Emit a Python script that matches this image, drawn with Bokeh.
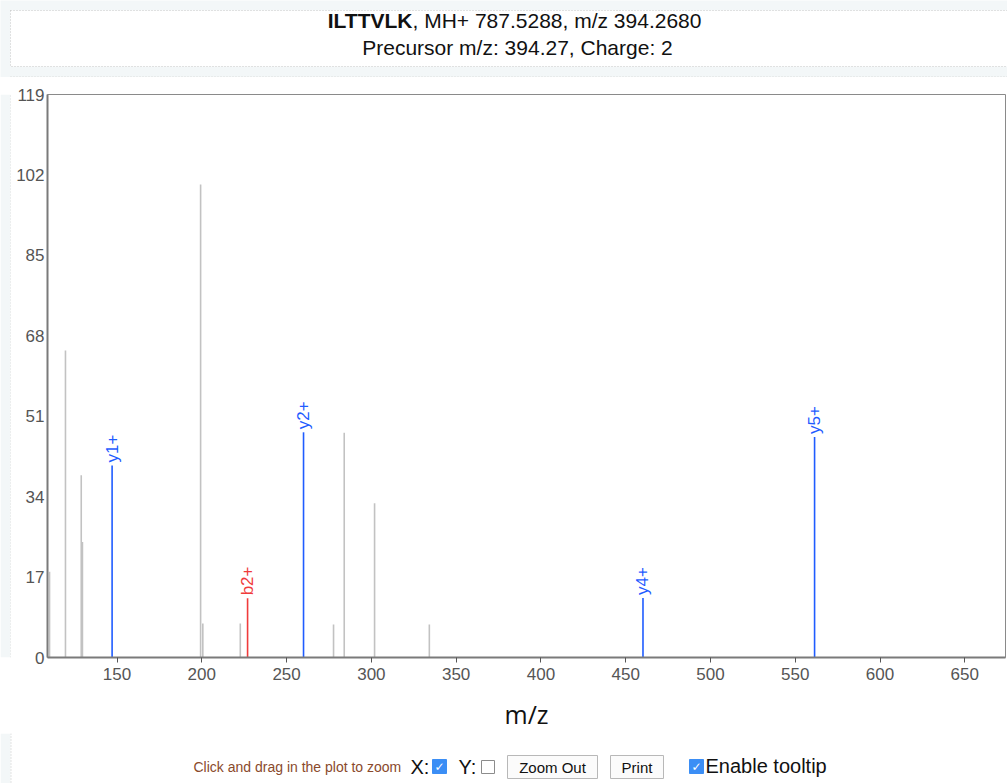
import math
from bokeh.plotting import figure
from bokeh.layouts import column, row
from bokeh.models import FixedTicker, ColumnDataSource
from bokeh.core.properties import value
from bokeh.embed import file_html
from bokeh.resources import INLINE

# ---------------- data ----------------
peptide = "ILTTVLK"
mh_mass = 787.5288
prec_mz = 394.2680
charge = 2

gray_mz = [110.2, 119.6, 128.9, 129.6, 199.3, 200.6, 222.7, 277.7, 284.0, 301.9, 334.2]
gray_int = [18.1, 64.9, 38.5, 24.4, 100.0, 7.2, 7.2, 7.0, 47.5, 32.6, 7.0]

ion_labels = ["y1+", "b2+", "y2+", "y4+", "y5+"]
ion_mz = [147.1, 227.0, 260.0, 460.2, 561.4]
ion_int = [40.6, 12.5, 47.6, 12.6, 46.6]
ion_type = ["y", "b", "y", "y", "y"]

x_ticks = [150, 200, 250, 300, 350, 400, 450, 500, 550, 600, 650]
y_ticks = [0, 17, 34, 51, 68, 85, 102, 119]

ion_colors = {"y": "#1f5cff", "b": "#f03b3b"}

FONT = value("Liberation Sans")
BG = "#f3f7f8"
DOT = "#c6c6c6"

# ---------------- header ----------------
W = 1007
HH = 77
hdr = figure(width=W, height=HH, x_range=(0, W), y_range=(HH, 0),
             x_axis_type=None, y_axis_type=None, output_backend="svg",
             toolbar_location=None, min_border=0, outline_line_color=None,
             background_fill_color=BG, border_fill_color=BG)
hdr.grid.visible = False
hdr.quad(left=[10], right=[W + 5], top=[10], bottom=[66], fill_color="white",
         line_color=DOT, line_dash="1 2", line_width=1)
hdr.segment(x0=[10], y0=[76.5], x1=[W + 5], y1=[76.5], line_color=DOT,
            line_dash="1 2", line_width=1)
hdr.text(x=[412], y=[20], text=[peptide], text_align="right", text_baseline="middle",
         text_font=FONT, text_font_style="bold", text_font_size="21px", text_color="#111111")
hdr.text(x=[412], y=[20], text=[f", MH+ {mh_mass:.4f}, m/z {prec_mz:.4f}"],
         text_align="left", text_baseline="middle",
         text_font=FONT, text_font_size="21px", text_color="#111111")
hdr.text(x=[517], y=[47], text=[f"Precursor m/z: {prec_mz:.2f}, Charge: {charge}"],
         text_align="center", text_baseline="middle",
         text_font=FONT, text_font_size="21px", text_color="#111111")

# ---------------- main plot ----------------
MH = 656
SW = 11
strip = figure(width=SW, height=MH, x_range=(0, SW), y_range=(0, MH),
               x_axis_type=None, y_axis_type=None, output_backend="svg",
               toolbar_location=None, min_border=0, outline_line_color=None,
               background_fill_color="white", border_fill_color="white")
strip.grid.visible = False
strip.quad(left=[0], right=[10], bottom=[0], top=[MH], fill_color=BG, line_color=None)
strip.segment(x0=[10.5], y0=[0], x1=[10.5], y1=[MH], line_color=DOT, line_dash="1 2")

p = figure(width=W - SW, height=MH, x_range=(109, 674), y_range=(0, 119),
           output_backend="svg", toolbar_location=None,
           min_border_left=36, min_border_right=2, min_border_top=17, min_border_bottom=74,
           outline_line_color="#8a8a8a", outline_line_width=1,
           background_fill_color="white", border_fill_color="white")
p.grid.visible = False

p.xaxis.ticker = FixedTicker(ticks=x_ticks)
p.yaxis.ticker = FixedTicker(ticks=y_ticks)
for ax in (p.xaxis[0], p.yaxis[0]):
    ax.axis_line_color = "#7a7a7a"
    ax.axis_line_width = 2
    ax.major_label_text_font = "Liberation Sans"
    ax.major_label_text_font_size = "17px"
    ax.major_label_text_color = "#555555"
    ax.minor_tick_line_color = None
p.xaxis.major_tick_out = 5
p.xaxis.major_tick_in = 0
p.xaxis.major_tick_line_color = "#555555"
p.xaxis.major_label_standoff = 5
p.yaxis.major_tick_out = 0
p.yaxis.major_tick_in = 0
p.yaxis.major_tick_line_color = None
p.yaxis.major_label_standoff = 3
p.xaxis.axis_label = "m/z"
p.xaxis.axis_label_text_font = "Open Sans"
p.xaxis.axis_label_text_font_size = "25px"
p.xaxis.axis_label_text_font_style = "normal"
p.xaxis.axis_label_text_color = "#111111"
p.xaxis.axis_label_standoff = 14

gsrc = ColumnDataSource(dict(mz=gray_mz, inten=gray_int, base=[0] * len(gray_mz)))
p.segment(x0="mz", y0="base", x1="mz", y1="inten", source=gsrc,
          line_color="#c2c2c2", line_width=1.6)

isrc = ColumnDataSource(dict(mz=ion_mz, inten=ion_int, base=[0] * len(ion_mz),
                             label=ion_labels,
                             color=[ion_colors[t] for t in ion_type]))
p.segment(x0="mz", y0="base", x1="mz", y1="inten", source=isrc,
          line_color="color", line_width=1.6)
p.text(x="mz", y="inten", text="label", source=isrc, angle=math.pi / 2,
       text_align="left", text_baseline="middle", y_offset=-3,
       text_font=FONT, text_font_size="17px", text_color="color")

# ---------------- controls ----------------
CH = 50
Y0 = HH + MH  # page y of the controls strip top
def cy(py):
    return py - Y0

ctl = figure(width=W, height=CH, x_range=(0, W), y_range=(CH, 0),
             x_axis_type=None, y_axis_type=None, output_backend="svg",
             toolbar_location=None, min_border=0, outline_line_color=None,
             background_fill_color="white", border_fill_color="white")
ctl.grid.visible = False
ctl.quad(left=[0], right=[10], top=[0], bottom=[CH], fill_color=BG, line_color=None)
ctl.segment(x0=[10.5], y0=[0], x1=[10.5], y1=[CH], line_color=DOT, line_dash="1 2")
ctl.text(x=[193], y=[cy(766)], text=["Click and drag in the plot to zoom"], text_align="left",
         text_baseline="middle", text_font=FONT, text_font_size="14px", text_color="#8a4a2c")
ctl.text(x=[410, 458], y=[cy(766), cy(766)], text=["X:", "Y:"], text_align="left",
         text_baseline="middle", text_font=FONT, text_font_size="20px", text_color="#111111")
# checkboxes
ctl.quad(left=[432, 689], right=[446, 703], top=[cy(759), cy(759)], bottom=[cy(773), cy(773)],
         fill_color="#3b8ef5", line_color="#3b8ef5")
ctl.text(x=[439, 696], y=[cy(766.5), cy(766.5)], text=["\u2713", "\u2713"], text_align="center",
         text_baseline="middle", text_font=value("DejaVu Sans"), text_font_size="12px",
         text_font_style="bold", text_color="white")
ctl.quad(left=[481], right=[494], top=[cy(760)], bottom=[cy(773)], fill_color="white",
         line_color="#8c8c8c")
# buttons
ctl.quad(left=[507, 610], right=[597, 663], top=[cy(755), cy(755)], bottom=[cy(778), cy(778)],
         fill_color="#fbfbfb", line_color="#b8b8b8")
ctl.text(x=[552, 636.5], y=[cy(767), cy(767)], text=["Zoom Out", "Print"], text_align="center",
         text_baseline="middle", text_font=FONT, text_font_size="15px", text_color="#111111")
ctl.text(x=[705], y=[cy(765)], text=["Enable tooltip"], text_align="left",
         text_baseline="middle", text_font=FONT, text_font_size="20px", text_color="#111111")

layout = column(hdr, row(strip, p), ctl)
open("out.html", "w").write(file_html(layout, INLINE))
